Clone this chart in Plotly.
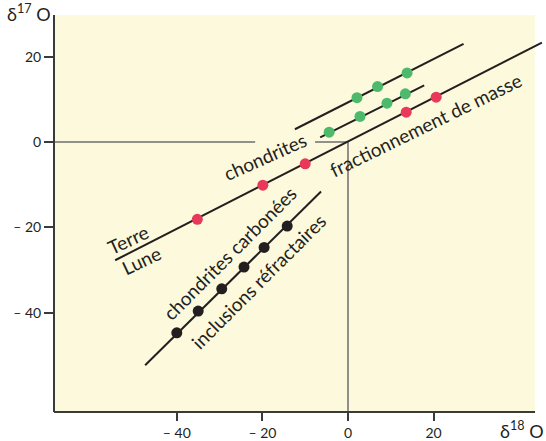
import plotly.graph_objects as go

# ---- data (δ18O, δ17O in ‰) ----
terre_x = [-35.2, -19.9, -10.0, 13.6, 20.6]
terre_y = [-18.1, -10.1, -5.1, 7.0, 10.5]

chond_low_x = [-4.4, 2.8, 9.1, 13.4]
chond_low_y = [2.3, 6.0, 9.1, 11.3]

chond_up_x = [2.1, 6.9, 13.8]
chond_up_y = [10.4, 13.0, 16.2]

cai_x = [-40.0, -35.0, -29.5, -24.3, -19.6, -14.2]
cai_y = [-44.7, -39.6, -34.4, -29.3, -24.7, -19.7]

# reference lines (end points)
frac_line_x = [-54.4, 45.3]
frac_line_y = [-27.7, 23.3]
chond_up_line_x = [-12.4, 27.0]
chond_up_line_y = [3.0, 23.0]
chond_low_line_x = [-6.5, 17.8]
chond_low_line_y = [1.1, 13.3]
cai_line_x = [-47.4, -6.3]
cai_line_y = [-52.3, -11.6]

tick_vals_x = [-40, -20, 0, 20]
tick_text_x = ["\u2013 40", "\u2013 20", "0", "20"]
tick_vals_y = [20, 0, -20, -40]
tick_text_y = ["20", "0", "\u2013 20", "\u2013 40"]

XR = [-68.69, 46.26]
YR = [-63.26, 29.77]
PANEL_XMAX = 43.7

INK = "#231f20"
GRAY = "#6d6e70"
RED = "#e8395b"
GREEN = "#4cb96b"
BG = "#fdf9dc"
FONT = "Lato"

fig = go.Figure()

# crosshair at origin
fig.add_trace(go.Scatter(x=[XR[0], -21.7], y=[0, 0], mode="lines",
                         line=dict(color=GRAY, width=1.5), hoverinfo="skip"))
fig.add_trace(go.Scatter(x=[-7.7, 0, 0], y=[0, 0, YR[0]], mode="lines",
                         line=dict(color=GRAY, width=1.5), hoverinfo="skip"))

for lx, ly in [(frac_line_x, frac_line_y), (chond_up_line_x, chond_up_line_y),
               (chond_low_line_x, chond_low_line_y), (cai_line_x, cai_line_y)]:
    fig.add_trace(go.Scatter(x=lx, y=ly, mode="lines",
                             line=dict(color=INK, width=2), hoverinfo="skip"))

for px, py, col in [(terre_x, terre_y, RED), (chond_low_x, chond_low_y, GREEN),
                    (chond_up_x, chond_up_y, GREEN), (cai_x, cai_y, INK)]:
    fig.add_trace(go.Scatter(x=px, y=py, mode="markers",
                             marker=dict(color=col, size=11, line=dict(width=0))))

# panel background and axis lines
fig.add_shape(type="rect", xref="x", yref="y", x0=XR[0], x1=PANEL_XMAX, y0=YR[0], y1=YR[1],
              fillcolor=BG, line=dict(width=0), layer="below")
fig.add_shape(type="line", xref="paper", yref="paper", x0=0, x1=0, y0=0, y1=1,
              line=dict(color="#3a3a3a", width=2))
fig.add_shape(type="line", xref="paper", yref="paper", x0=0,
              x1=(PANEL_XMAX - XR[0]) / (XR[1] - XR[0]), y0=0, y1=0,
              line=dict(color="#3a3a3a", width=2))

labels = [
    ("Terre", -51.4, -22.9, -25),
    ("Lune", -48.4, -27.7, -25),
    ("chondrites", -19.4, -3.5, -24),
    ("fractionnement de masse", 18.2, 4.2, -26),
    ("chondrites carbonées", -27.8, -26.0, -45),
    ("inclusions réfractaires", -21.0, -32.6, -45),
]
for t, x, y, a in labels:
    fig.add_annotation(x=x, y=y, xref="x", yref="y", text=t, textangle=a,
                       showarrow=False, font=dict(family=FONT, size=19, color=INK))

fig.add_annotation(x=0, y=1, xref="paper", yref="paper", xanchor="right", yanchor="bottom",
                   xshift=-1, yshift=-12, text="δ<sup>17</sup> O", showarrow=False,
                   font=dict(family=FONT, size=18, color=INK))
fig.add_annotation(x=1, y=0, xref="paper", yref="paper", xanchor="right", yanchor="top",
                   yshift=-4, text="δ<sup>18</sup> O", showarrow=False,
                   font=dict(family=FONT, size=18, color=INK))

fig.update_layout(
    width=546, height=441,
    margin=dict(l=54, r=0, t=15, b=26),
    paper_bgcolor="white", plot_bgcolor="white",
    showlegend=False,
)
fig.update_xaxes(range=XR, showgrid=False, zeroline=False, showline=False,
                 tickmode="array", tickvals=tick_vals_x, ticktext=tick_text_x,
                 ticks="outside", ticklen=8, tickwidth=1.5, tickcolor="#3a3a3a",
                 tickfont=dict(family=FONT, size=14, color=INK))
fig.update_yaxes(range=YR, showgrid=False, zeroline=False, showline=False,
                 tickmode="array", tickvals=tick_vals_y, ticktext=tick_text_y,
                 ticks="outside", ticklen=9, tickwidth=1.5, tickcolor="#3a3a3a",
                 tickfont=dict(family=FONT, size=14, color=INK))

fig.write_html("out.html", config={"displayModeBar": False},
               post_script="document.body.style.margin='0';")
